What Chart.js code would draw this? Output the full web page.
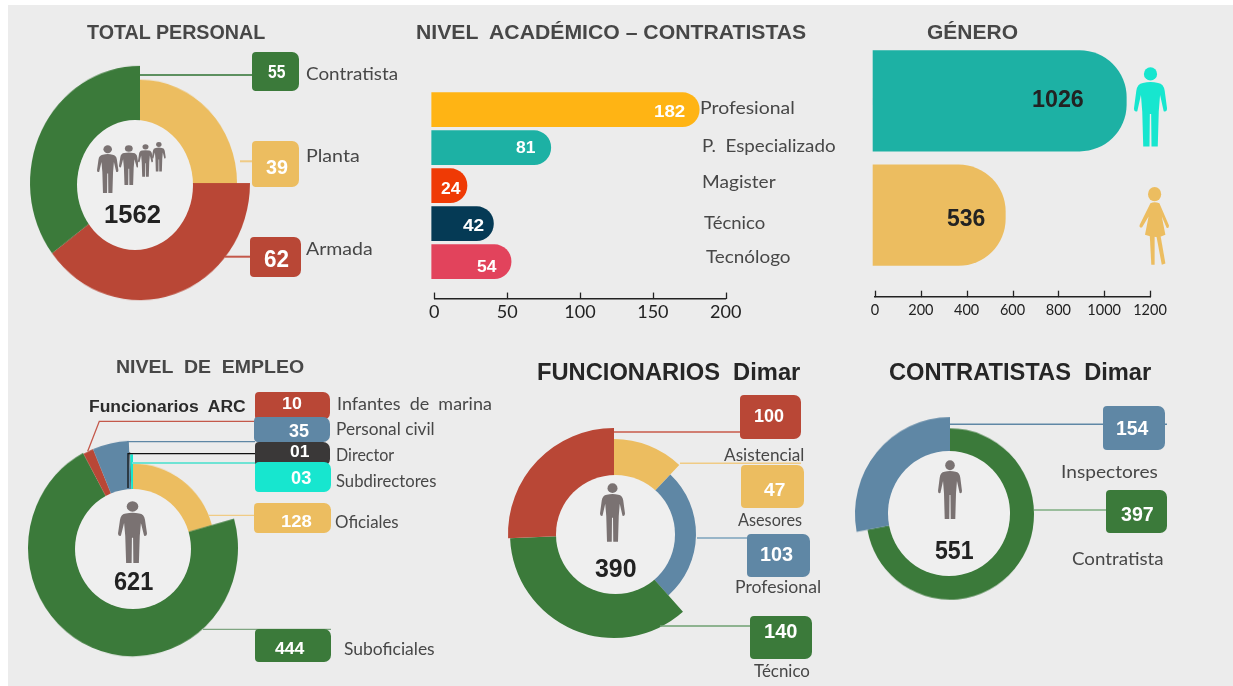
<!DOCTYPE html>
<html lang="es"><head><meta charset="utf-8">
<title>Personal Dimar</title>
<script src="https://cdn.jsdelivr.net/npm/chart.js@4/dist/chart.umd.min.js"></script>
<style>
html,body{margin:0;padding:0;background:#fff;width:1233px;height:686px;overflow:hidden}
#bg{position:absolute;left:8px;top:5px;width:1225px;height:681px;background:#ececec}
canvas{position:absolute}
#lines{position:absolute;left:0;top:0;z-index:2}
.t{position:absolute;white-space:pre;transform-origin:0 50%;z-index:6}
.b{position:absolute;z-index:4}
.h{position:absolute;border-radius:50%;background:#efefef;z-index:3}
.i{position:absolute;z-index:5}
</style></head><body>
<div id="bg"></div>
<script>
/* ---------- data ---------- */
const totalLabels=['Planta','Armada','Contratista'];
const totalValues=[39,62,55];
const totalCentre='1562';

const academicLabels=['Profesional','P.  Especializado','Magister','Técnico','Tecnólogo'];
const academicValues=[182,81,24,42,54];
const academicTicks=[0,50,100,150,200];

const genderLabels=['Hombres','Mujeres'];
const genderValues=[1026,536];
const genderTicks=[0,200,400,600,800,1000,1200];

const employmentLabels=['Oficiales','Suboficiales','Infantes  de  marina','Personal civil','Director','Subdirectores'];
const employmentValues=[128,444,10,35,1,3];
const employmentShown=['128','444','10','35','01','03'];
const employmentCentre='621';

const staffLabels=['Asesores','Profesional','Técnico','Asistencial'];
const staffValues=[47,103,140,100];
const staffCentre='390';

const contractorLabels=['Contratista','Inspectores'];
const contractorValues=[397,154];
const contractorCentre='551';

/* ---------- colours ---------- */
const GREEN='#3b7a3a',RED='#b94736',YEL='#ecbd60',BLUE='#5f87a5',DARK='#3a3838',CYAN='#17e6cf',GREY='#7a7272';
const LAB='#474747',SANS='"Liberation Sans",Arial,sans-serif',LATO='Lato,sans-serif';

/* ---------- overlay helpers ---------- */
const mc=document.createElement('canvas').getContext('2d');
function T(str,x0,x1,base,size,opt={}){
  const font=opt.font||SANS,w=opt.weight||'bold',col=opt.color||LAB;
  mc.font=`${w} ${size}px ${font}`;
  const m=mc.measureText(String(str));
  const ink=m.actualBoundingBoxRight+m.actualBoundingBoxLeft;
  const sx=(x1-x0)/ink,a=m.fontBoundingBoxAscent,d=m.fontBoundingBoxDescent;
  const e=document.createElement('div');e.className='t';e.textContent=String(str);
  e.style.cssText=`left:${x0+m.actualBoundingBoxLeft*sx}px;top:${base-a}px;font:${w} ${size}px/${a+d}px ${font};color:${col};transform:scaleX(${sx})`;
  document.body.appendChild(e);
}
const L=(s,x0,x1,b,size=18)=>T(s,x0,x1,b,size,{font:LATO,weight:'normal'});
const W=(s,x0,x1,b,size=18)=>T(s,x0,x1,b,size,{color:'#fff'});
function B(x0,y0,x1,y1,col,rad='4px 7px 7px 4px'){
  const e=document.createElement('div');e.className='b';
  e.style.cssText=`left:${x0}px;top:${y0}px;width:${x1-x0}px;height:${y1-y0}px;background:${col};border-radius:${rad}`;
  document.body.appendChild(e);
}
function hole(cx,cy,rx,ry){
  const e=document.createElement('div');e.className='h';
  e.style.cssText=`left:${cx-rx}px;top:${cy-ry}px;width:${2*rx}px;height:${2*ry}px`;
  document.body.appendChild(e);
}
const MAN='<circle cx="50" cy="21" r="20"/><path d="M27 48Q50 42 73 48Q90 50 93 72L100 125Q100 137 90 134L79 85L75 135L72 240L53 240L52 142L48 142L47 240L28 240L25 135L21 85L10 134Q0 137 0 125L7 72Q10 50 27 48Z"/>';
const WOMAN='<circle cx="52" cy="22" r="22"/><path d="M38 50Q52 44 68 50L100 118Q100 128 92 125L76 90L88 146Q60 160 20 146L32 90L10 124Q0 126 2 116Z"/><path d="M36 150L52 150L52 238L41 238Z"/><path d="M58 150L72 150L88 234L76 238Z"/>';
function icon(shape,x0,y0,x1,y1,col){
  const ns='http://www.w3.org/2000/svg',s=document.createElementNS(ns,'svg');
  s.setAttribute('class','i');s.setAttribute('viewBox','0 0 100 240');s.setAttribute('preserveAspectRatio','none');
  s.setAttribute('width',x1-x0);s.setAttribute('height',y1-y0);
  s.style.left=x0+'px';s.style.top=y0+'px';s.style.fill=col;s.innerHTML=shape;
  document.body.appendChild(s);
}
const ln=[];
const line=(pts,col,w=1.5)=>ln.push(`<polyline fill="none" stroke="${col}" stroke-width="${w}" points="${pts}"/>`);

/* ---------- chart helpers ---------- */
const sliceRadii={id:'sliceRadii',beforeDatasetDraw(chart){
  const r=chart.options.plugins.sliceRadii;
  chart.getDatasetMeta(0).data.forEach((el,i)=>{el.outerRadius=r.outer[i];el.innerRadius=r.inner;});
}};
/* tick marks that rise from the axis line, placed by the scale */
const risingTicks={id:'risingTicks',afterDraw(chart){
  const s=chart.scales.x,ctx=chart.ctx,y0=s.top!==undefined?chart.scales.y.getPixelForValue(s.options.position.y):0;
  ctx.save();ctx.strokeStyle='#222';ctx.lineWidth=1.3;
  s.ticks.forEach(t=>{const x=Math.round(s.getPixelForValue(t.value))+.5;ctx.beginPath();ctx.moveTo(x,y0+.5);ctx.lineTo(x,y0-6);ctx.stroke();});
  ctx.restore();
}};
function donut(cx,cy,sy,labels,values,colors,outer){
  const c=document.createElement('canvas'),S=270;
  c.width=S;c.height=S;
  c.style.cssText=`left:${cx-S/2}px;top:${cy-S/2}px;z-index:1;transform:scaleY(${sy})`;
  document.body.appendChild(c);
  return new Chart(c,{type:'doughnut',plugins:[sliceRadii],
    data:{labels,datasets:[{data:values,backgroundColor:colors,borderWidth:0}]},
    options:{responsive:false,animation:false,cutout:40,layout:{padding:0},
      plugins:{legend:{display:false},tooltip:{enabled:false},sliceRadii:{outer,inner:40}}}});
}
function bars(left,top,w,h,pad,labels,values,colors,thick,rad,scales){
  const c=document.createElement('canvas');c.width=w;c.height=h;
  c.style.cssText=`left:${left}px;top:${top}px;z-index:1`;
  document.body.appendChild(c);
  return new Chart(c,{type:'bar',plugins:[risingTicks],
    data:{labels,datasets:[{data:values,backgroundColor:colors,barThickness:thick,borderWidth:0,base:0,clip:false,
      borderRadius:{topRight:rad,bottomRight:rad,topLeft:0,bottomLeft:0},xAxisID:'xBar'}]},
    options:{indexAxis:'y',responsive:false,animation:false,layout:{padding:pad},
      plugins:{legend:{display:false},tooltip:{enabled:false}},scales}});
}
function valueAxis(yPos,ticksList,size,pad){
  return {type:'linear',axis:'x',position:{y:yPos},min:ticksList[0],max:ticksList[ticksList.length-1],
    afterBuildTicks(a){a.ticks=ticksList.map(v=>({value:v}));},
    grid:{drawOnChartArea:false,drawTicks:false},
    border:{display:true,color:'#222',width:1.5},
    ticks:{autoSkip:false,maxRotation:0,color:'#222',padding:pad,font:{family:'Lato',size},callback:v=>String(v)}};
}

/* ---------- panel 1: TOTAL PERSONAL ---------- */
donut(140.3,183,1.065,totalLabels,totalValues,[YEL,RED,GREEN],[97,110,110]);
hole(135,185,58,65);
T('TOTAL PERSONAL',87.3,265.7,39,20);
line('140,75 252,75','#5d9060',2);line('240,161.3 252,161.3','#f0cb85',2);line('225,256.7 251,256.7','#c4584a',2);
B(251.7,51.7,299,90.7,GREEN);B(251.7,141.3,299,187,YEL);B(250.3,237.3,301,276.7,RED);
W(totalValues[2],268.3,285.7,78.3,18);W(totalValues[0],266,287.3,173.7,21);W(totalValues[1],264.3,289,267.3,24);
L(totalLabels[2],305.7,396.7,80.3);L(totalLabels[0],306.7,358.3,162.3);L(totalLabels[1],306,371.7,255.3);
T(totalCentre,105,160,222.7,25,{color:'#222'});
icon(MAN,97.3,145,118.7,193.3,GREY);icon(MAN,118.7,145,138.3,185,GREY);icon(MAN,138.3,144,153.3,176.7,GREY);icon(MAN,152,142.3,165.7,171.7,GREY);

/* ---------- panel 2: NIVEL ACADÉMICO ---------- */
bars(400,70,360,260,{left:34.3,right:34.3,top:20.7,bottom:49.3},academicLabels,academicValues,
  ['#ffb414','#1db1a4','#ef3a05','#053a55','#e2435c'],34,17,
  {x:valueAxis(4.97,academicTicks,18,3),xBar:{type:'linear',axis:'x',display:false,min:1.77,max:200},y:{display:false}});
T('NIVEL  ACADÉMICO – CONTRATISTAS',417.3,807.3,39,20);
W(academicValues[0],655,684.7,117.3,17);W(academicValues[1],516,535,153.3,17);W(academicValues[2],440.7,460.7,194.3,17);W(academicValues[3],463.3,484,231.3,17);W(academicValues[4],477.3,497.3,272.3,17);
L(academicLabels[0],701,793.3,113.7);L(academicLabels[1],702.7,835,152);L(academicLabels[2],702.7,775.7,188);L(academicLabels[3],704,765,229);L(academicLabels[4],705.7,790,263.3);

/* ---------- panel 3: GÉNERO ---------- */
bars(840,30,393,300,{left:35,right:83,top:13.7,bottom:57.7},genderLabels,genderValues,
  ['#1db1a4',YEL],100.5,47,
  {x:valueAxis(1.7135,genderTicks,14.5,5),xBar:{type:'linear',axis:'x',display:false,min:8.1,max:1122},y:{display:false}});
T('GÉNERO',927.3,1017.7,39,20);
T(genderValues[0],1032.7,1082.7,106.7,23,{color:'#222'});T(genderValues[1],946.7,984.3,226,23,{color:'#222'});
icon(MAN,1134.3,67.3,1167.3,146.7,CYAN);icon(WOMAN,1139,187.3,1169,265.7,YEL);

/* ---------- panel 4: NIVEL DE EMPLEO ---------- */
donut(132.7,547.7,1.03,employmentLabels,employmentValues,[YEL,GREEN,RED,BLUE,DARK,CYAN],[82,105,104,104,93,91]);
hole(133.3,548.7,58,60);
T('NIVEL  DE  EMPLEO',117.3,304,372.7,19);
T('Funcionarios  ARC',90.3,247,412,16,{color:'#2b2b2b'});
line('87.7,451.3 99.3,421.3 255,421.3','#c4584a',1.3);
line('127,441.7 255,441.7',BLUE,1.3);
line('128,453 128,488','#111',1.3);line('128,453.7 255,453.7','#111',1.3);
line('132,463 255,463','#6fe3d4',2);
line('208,515.3 254,515.3','#f0cb85',1.3);
line('203,629.3 331,629.3','#7fa581',1.3);
B(255.3,392,330,420,RED);B(254.3,417,330,442,BLUE);B(255.3,442,330,466,DARK);B(254.7,462.3,331,491.7,CYAN);
B(254,502.7,331,533.3,YEL);B(255,629.3,331.3,662,GREEN);
W(employmentShown[2],282.7,301,409.3,17);W(employmentShown[3],289.3,309.3,436.7,18);W(employmentShown[4],290,309,457,17);W(employmentShown[5],290.7,311,484,18);
W(employmentShown[0],281.7,311,527.3,17);W(employmentShown[1],275,305,654.3,17);
L(employmentLabels[2],338,491.3,410,17);L(employmentLabels[3],336.7,433.3,435.3,17);L(employmentLabels[4],336.7,394.7,461.3,17);L(employmentLabels[5],336,436,487.3,17);
L(employmentLabels[0],335,398.3,528,17);L(employmentLabels[1],344,434.3,654.7,17);
T(employmentCentre,114,153.3,590,25,{color:'#222'});
icon(MAN,118,501,147,563.3,GREY);

/* ---------- panel 5: FUNCIONARIOS Dimar ---------- */
donut(614.3,534,1,staffLabels,staffValues,[YEL,BLUE,GREEN,RED],[95,82,104,106]);
hole(615.3,534.7,59.7,59.5);
T('FUNCIONARIOS  Dimar',537.7,800,380,23,{color:'#262626'});
line('614,432 740,432','#c95a4a',1.5);line('680,463.3 801,463.3','#f0cb85',1.5);line('697,538 747.5,538','#7da3bd',1.5);line('660,626 751,626','#6fa072',1.5);
B(740,395.3,801.3,438.7,RED);B(741.3,464.7,803.7,508,YEL);B(747.3,533.7,810.3,576.7,BLUE);B(750.3,615.7,812,659,GREEN);
W(staffValues[3],755,784,421.7,18);W(staffValues[0],764,785.3,496,18);W(staffValues[1],760.7,792.7,561,20);W(staffValues[2],765,797.3,638.3,20);
L(staffLabels[3],724.3,803.7,461,17);L(staffLabels[0],738,801.7,526.3,17);L(staffLabels[1],736,820,593,17);L(staffLabels[2],754,809.3,676.7,17);
T(staffCentre,595.3,636,576.7,25,{color:'#222'});
icon(MAN,600,483.3,625,542,GREY);

/* ---------- panel 6: CONTRATISTAS Dimar ---------- */
donut(950,513.7,1.02,contractorLabels,contractorValues,[GREEN,BLUE],[84,95]);
hole(948.8,513.5,61,62.7);
T('CONTRATISTAS  Dimar',888.7,1151,380,23,{color:'#262626'});
line('950,424.3 1167,424.3',BLUE,1.5);line('1034,510 1106,510','#7fae82',1.5);
B(1103.3,406.3,1164.7,449.7,BLUE);B(1105.7,489.7,1167.3,533,GREEN);
W(contractorValues[1],1117,1149.3,435,20);W(contractorValues[0],1120.7,1153.3,521,20);
L(contractorLabels[1],1061.7,1157.7,478.3,18);L(contractorLabels[0],1071.7,1162.3,564.7,18);
T(contractorCentre,935.3,974,558.7,25,{color:'#222'});
icon(MAN,938,460,962,519.3,GREY);

/* leader lines */
const ns='http://www.w3.org/2000/svg',sv=document.createElementNS(ns,'svg');
sv.id='lines';sv.setAttribute('width',1233);sv.setAttribute('height',686);sv.innerHTML=ln.join('');
document.body.appendChild(sv);
</script>
</body></html>
